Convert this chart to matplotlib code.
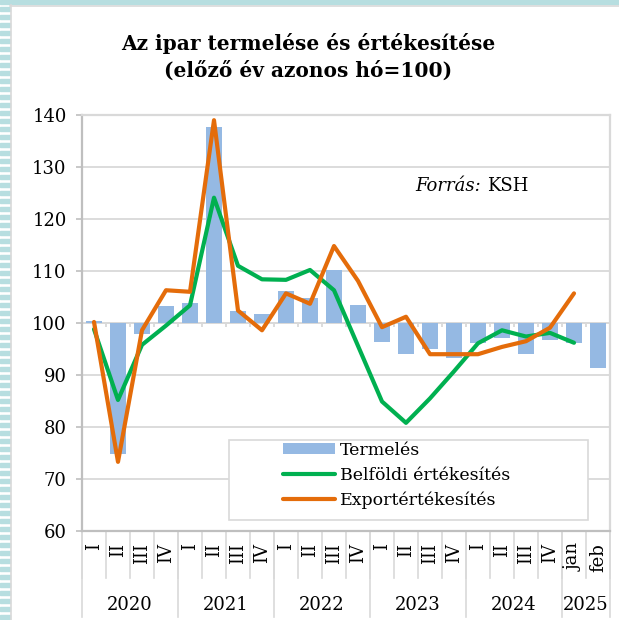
import numpy as np
import matplotlib.pyplot as plt
from matplotlib.patches import Rectangle
from matplotlib.lines import Line2D

plt.rcParams['font.family'] = ['DejaVu Serif']

# adatok
negyedev = ['I', 'II', 'III', 'IV'] * 5 + ['jan', 'feb']
evek = ['2020', '2021', '2022', '2023', '2024', '2025']
ev_hossz = [4, 4, 4, 4, 4, 2]

termeles = [100.3, 74.8, 97.8, 103.3, 103.9, 137.6, 102.3, 101.8, 106.2, 104.9, 110.2,
            103.5, 96.4, 94.0, 95.0, 93.2, 96.2, 97.2, 94.1, 96.8, 96.2, 91.3]
belfoldi = [98.8, 85.2, 95.8, 99.5, 103.4, 124.1, 111.0, 108.4, 108.3, 110.2, 106.3,
            95.6, 84.9, 80.8, 85.5, 90.7, 96.1, 98.6, 97.4, 98.1, 96.2]
export = [100.2, 73.3, 98.6, 106.3, 106.0, 139.0, 102.4, 98.6, 105.7, 103.7, 114.8,
          108.1, 99.2, 101.2, 94.0, 94.0, 94.0, 95.4, 96.5, 99.1, 105.7]

kek = '#95B9E3'
zold = '#00B050'
narancs = '#E46C0A'
racs = '#d9d9d9'

W, H = 619, 620
fig = plt.figure(figsize=(W / 100, H / 100), dpi=100)

# keret / dekoracio
teal = '#B7DEE0'
fig.patches.append(Rectangle((0, 1 - 4 / H), 1, 4 / H, transform=fig.transFigure,
                             color=teal, zorder=0))
for y in range(7, H, 8):
    fig.patches.append(Rectangle((0, 1 - (y + 4) / H), 10 / W, 4 / H,
                                 transform=fig.transFigure, color=teal, zorder=0))
fig.add_artist(Line2D([10.5 / W, 10.5 / W], [0, 1 - 5 / H], color=racs, lw=1.2))
fig.add_artist(Line2D([10 / W, 1], [1 - 5.5 / H, 1 - 5.5 / H], color=racs, lw=1.2))

ax = fig.add_axes([82 / W, 1 - 531 / H, 528 / W, 416 / H])

x = np.arange(len(termeles))
b = ax.bar(x, np.array(termeles) - 100, bottom=100, width=0.66, color=kek, zorder=2,
           label='Termelés')
l1, = ax.plot(np.arange(len(belfoldi)), belfoldi, color=zold, lw=3, zorder=3,
              solid_capstyle='round', solid_joinstyle='round', label='Belföldi értékesítés')
l2, = ax.plot(np.arange(len(export)), export, color=narancs, lw=3, zorder=4,
              solid_capstyle='round', solid_joinstyle='round', label='Exportértékesítés')

ax.set_xlim(-0.5, len(negyedev) - 0.5)
ax.set_ylim(60, 140)
ax.set_yticks(np.arange(60, 141, 10))
ax.yaxis.grid(True, color=racs, lw=1.3)
ax.set_axisbelow(True)
ax.axhline(100, color=racs, lw=1.3, zorder=1)
ax.vlines(np.arange(len(negyedev) - 1) + 0.5, 99.2, 100, color=racs, lw=1.3, zorder=1)

ax.tick_params(axis='x', bottom=False, labelbottom=False)
ax.tick_params(axis='y', length=4, width=1.2, color='#bfbfbf', pad=7, labelsize=13)
for s in ['left', 'bottom']:
    ax.spines[s].set_color('#bfbfbf')
    ax.spines[s].set_linewidth(1.6)
for s in ['top', 'right']:
    ax.spines[s].set_color(racs)
    ax.spines[s].set_linewidth(1.6)

# ketszintu kategoriatengely
tr = ax.get_xaxis_transform()
for i, lab in enumerate(negyedev):
    ax.text(i, -0.029, lab, transform=tr, rotation=90, ha='center', va='top', fontsize=13)
for k in range(len(negyedev) + 1):
    ax.add_line(Line2D([k - 0.5, k - 0.5], [0, -0.113], transform=tr, color=racs,
                       lw=1.2, clip_on=False))
hatar = np.concatenate([[0], np.cumsum(ev_hossz)])
for k in hatar:
    ax.add_line(Line2D([k - 0.5, k - 0.5], [0, -0.207], transform=tr, color=racs,
                       lw=1.2, clip_on=False))
for ev, a, n in zip(evek, hatar[:-1], ev_hossz):
    ax.text(a + n / 2 - 0.5, -0.178, ev, transform=tr, ha='center', va='center',
            fontsize=13)

# jelmagyarazat
ax.add_patch(Rectangle((229 / W, 1 - 520 / H), 359 / W, 80 / H,
                       transform=fig.transFigure, facecolor='white',
                       edgecolor=racs, lw=1.2, zorder=5, clip_on=False))
leg = ax.legend([b, l1, l2], ['Termelés', 'Belföldi értékesítés', 'Exportértékesítés'],
                loc='upper left', bbox_to_anchor=(283 / W, 1 - 442 / H),
                bbox_transform=fig.transFigure, frameon=False, borderpad=0,
                borderaxespad=0, handlelength=3.0, handleheight=0.6, handletextpad=0.3,
                labelspacing=0.45, fontsize=12.5)
leg.set_zorder(6)

fig.text(415 / W, 1 - 186 / H, 'Forrás:', style='italic', fontsize=13, va='center')
fig.text(487 / W, 1 - 186 / H, 'KSH', fontsize=13, va='center')

fig.text(308 / W, 1 - 57 / H, 'Az ipar termelése és értékesítése\n(előző év azonos hó=100)',
         ha='center', va='center', fontsize=14.5, fontweight='bold', linespacing=1.45)

fig.savefig('out.png', dpi=100)
